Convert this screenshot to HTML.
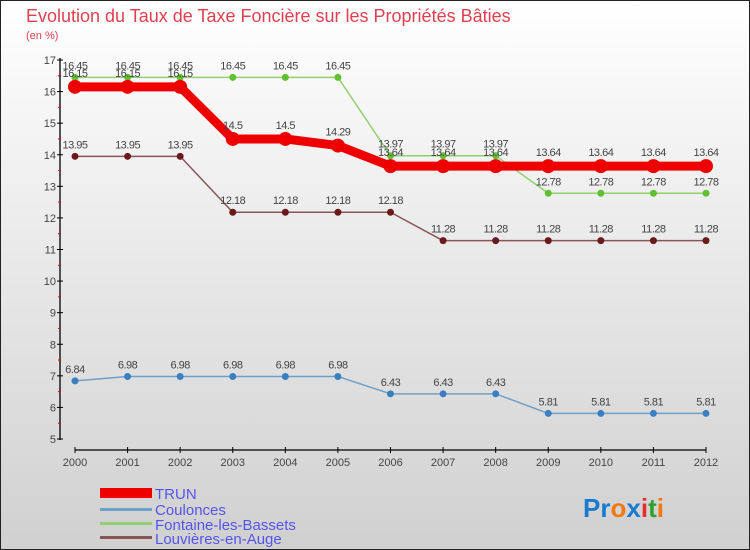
<!DOCTYPE html>
<html><head><meta charset="utf-8"><style>
body{margin:0;background:#fff}
svg{display:block;font-family:"Liberation Sans",sans-serif}
</style></head><body>
<svg id="c" width="750" height="550">
<defs><linearGradient id="bg" x1="0" y1="0" x2="0" y2="1"><stop offset="0" stop-color="#ffffff"/><stop offset="1" stop-color="#d0d0d0"/></linearGradient></defs>
<rect x="0.5" y="0.5" width="749" height="549" fill="url(#bg)" stroke="#222"/>
<text x="26" y="22" font-size="18" fill="#e04050">Evolution du Taux de Taxe Foncière sur les Propriétés Bâties</text>
<text x="26" y="39" font-size="11" fill="#e04050">(en %)</text>
<g id="axes"></g><g id="series"></g>
<g>
<rect x="100" y="488" width="52" height="10" fill="#ee0000"/>
<text x="155" y="499" font-size="15" fill="#5555ee">TRUN</text>
<rect x="100" y="508" width="52" height="3" fill="#6fa0c8"/>
<text x="155" y="515" font-size="15" fill="#5555ee">Coulonces</text>
<rect x="100" y="522" width="52" height="3" fill="#90d070"/>
<text x="155" y="530" font-size="15" fill="#5555ee">Fontaine-les-Bassets</text>
<rect x="100" y="536" width="52" height="3" fill="#8a5555"/>
<text x="155" y="544" font-size="15" fill="#5555ee">Louvières-en-Auge</text>
</g>
<text x="583" y="517" font-size="26" font-weight="bold"><tspan fill="#1a7ad0">Pr</tspan><tspan fill="#f07a10">o</tspan><tspan fill="#1a7ad0">x</tspan><tspan fill="#e03030">i</tspan><tspan fill="#30a030">t</tspan><tspan fill="#f07a10">i</tspan></text>
</svg>
<script>
const years=[2000,2001,2002,2003,2004,2005,2006,2007,2008,2009,2010,2011,2012];
const yTicks=[5,6,7,8,9,10,11,12,13,14,15,16,17];
const trun=[16.15,16.15,16.15,14.5,14.5,14.29,13.64,13.64,13.64,13.64,13.64,13.64,13.64];
const coulonces=[6.84,6.98,6.98,6.98,6.98,6.98,6.43,6.43,6.43,5.81,5.81,5.81,5.81];
const fontaine=[16.45,16.45,16.45,16.45,16.45,16.45,13.97,13.97,13.97,12.78,12.78,12.78,12.78];
const louvieres=[13.95,13.95,13.95,12.18,12.18,12.18,12.18,11.28,11.28,11.28,11.28,11.28,11.28];
const NS="http://www.w3.org/2000/svg";
const X=i=>75+i*(706-75)/(years.length-1);
const Y=v=>439-(v-5)*(439-60)/12;
function mk(p,tag,a){const e=document.createElementNS(NS,tag);for(const k in a)e.setAttribute(k,a[k]);p.appendChild(e);return e;}
const ax=document.getElementById('axes'),sg=document.getElementById('series');
mk(ax,'line',{x1:60,y1:58,x2:60,y2:440,stroke:'#000','stroke-width':1.3});
mk(ax,'line',{x1:75,y1:450,x2:706,y2:450,stroke:'#000','stroke-width':1.3});
yTicks.forEach(v=>{
 const t=mk(ax,'line',{x1:57,y1:Y(v),x2:63,y2:Y(v),stroke:'#000'});
 
 const l=mk(ax,'text',{x:56,y:Y(v)+4,'font-size':11,fill:'#444','text-anchor':'end'});l.textContent=v;
 
 if(v<17){const m=mk(ax,'line',{x1:58,y1:Y(v+0.5),x2:61,y2:Y(v+0.5),stroke:'#e00'});
 }
});
years.forEach((y,i)=>{
 const t=mk(ax,'line',{x1:X(i),y1:447,x2:X(i),y2:453,stroke:'#000'});
 
 const l=mk(ax,'text',{x:X(i),y:466,'font-size':11,fill:'#444','text-anchor':'middle'});l.textContent=y;
 
});
function series(vals,name,lc,pc,w,r,lblDy){
 const g=mk(sg,'g',{});
 
 const p=mk(g,'polyline',{points:vals.map((v,i)=>X(i)+','+Y(v)).join(' '),fill:'none',stroke:lc,'stroke-width':w,'stroke-linejoin':'round'});
 
 vals.forEach((v,i)=>{
  const c=mk(g,'circle',{cx:X(i),cy:Y(v),r:r,fill:pc});
  
  const t=mk(g,'text',{x:X(i),y:Y(v)+lblDy,'font-size':11,fill:'#444','text-anchor':'middle','letter-spacing':'-0.5'});t.textContent=v;
  
 });
}
series(louvieres,'louvieres','#8a5555','#6a1a1a',1.5,3.5,-8);
series(coulonces,'coulonces','#6fa0c8','#3a80c0',1.5,3.5,-8);
series(fontaine,'fontaine','#90d070','#60c030',1.5,3.5,-8);
series(trun,'trun','#ee0000','#ee0000',9,7,-10);
</script>
</body></html>
